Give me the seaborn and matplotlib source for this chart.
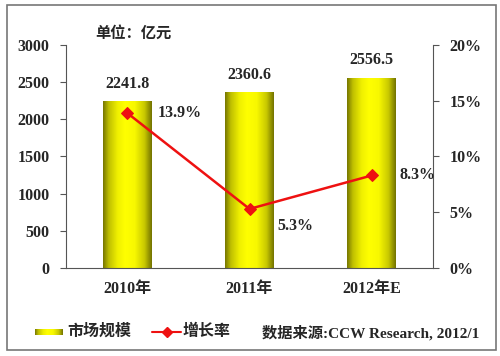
import numpy as np
import pandas as pd
import matplotlib
matplotlib.use("Agg")
import matplotlib.pyplot as plt
import seaborn as sns
from matplotlib.colors import LinearSegmentedColormap
from matplotlib.lines import Line2D
from matplotlib.patches import Rectangle

# data
years = ["2010年", "2011年", "2012年E"]
market_size = [2241.8, 2360.6, 2556.5]      # 亿元
growth_rate = [13.9, 5.3, 8.3]              # %
size_labels = ["2241.8", "2360.6", "2556.5"]
rate_labels = ["13.9%", "5.3%", "8.3%"]

df = pd.DataFrame({"year": years, "size": market_size, "rate": growth_rate})

sns.set_style("white")
plt.rcParams["font.family"] = ["Liberation Serif", "Noto Sans CJK SC"]
plt.rcParams["font.weight"] = "bold"

fig = plt.figure(figsize=(5, 3.56), dpi=100)
ax = fig.add_axes([0.132, 0.247, 0.734, 0.627])

sns.barplot(data=df, x="year", y="size", ax=ax, width=0.4, color="#e0e000",
            edgecolor="none", zorder=2)

# olive -> yellow -> olive gradient on the bars
grad_cmap = LinearSegmentedColormap.from_list(
    "oliveyellow", [(0.0, "#767600"), (0.12, "#c0c000"), (0.3, "#f0f000"),
                    (0.45, "#ffff00"), (0.65, "#f8f800"), (0.85, "#c8c800"),
                    (1.0, "#727200")])
grad = np.linspace(0, 1, 256).reshape(1, -1)
for p in ax.patches:
    x0, y0 = p.get_x(), p.get_y()
    w, h = p.get_width(), p.get_height()
    im = ax.imshow(grad, cmap=grad_cmap, aspect="auto",
                   extent=[x0, x0 + w, y0, y0 + h], zorder=2)
    im.set_clip_path(p)
    p.set_facecolor("none")
    ax.annotate(size_labels[int(round(x0 + w / 2))], (x0 + w / 2, y0 + h),
                xytext=(0, 7), textcoords="offset points",
                ha="center", va="bottom", fontsize=11.5, fontweight="bold")

ax.set_xlim(-0.5, 2.5)
ax.set_ylim(0, 3000)
ax.set_yticks(range(0, 3001, 500))
ax.set_xlabel("")
ax.set_ylabel("")
ax.set_xticks([0, 1, 2])
ax.set_xticklabels(years, fontsize=11.5, fontweight="bold")
ax.set_xticks([-0.5, 0.5, 1.5, 2.5], minor=True)
ax.tick_params(axis="x", which="major", length=0, pad=9)
ax.tick_params(axis="x", which="minor", length=5, width=0.8, direction="out", color="#555555")
ax.tick_params(axis="y", length=4, width=0.8, direction="out", color="#555555",
               labelsize=11.5, pad=8)
for lab in ax.get_yticklabels():
    lab.set_fontweight("bold")
for s in ["top", "right"]:
    ax.spines[s].set_visible(False)
for s in ["left", "bottom"]:
    ax.spines[s].set_color("#555555")
    ax.spines[s].set_linewidth(0.8)

ax.text(0.08, 1.02, "单位：亿元", transform=ax.transAxes, fontsize=11,
        fontweight="bold", ha="left", va="bottom")

# growth rate on the right axis
ax2 = ax.twinx()
sns.lineplot(data=df, x="year", y="rate", ax=ax2, color="#ee1111", lw=1.8,
             marker="D", markersize=6, markeredgecolor="#ee1111", zorder=3)
ax2.set_ylim(0, 20)
ax2.set_yticks(range(0, 21, 5))
ax2.set_yticklabels([f"{v}%" for v in range(0, 21, 5)], fontsize=11.5, fontweight="bold")
ax2.set_ylabel("")
ax2.set_xlabel("")
ax2.tick_params(axis="y", length=4, width=0.8, direction="out", color="#555555", pad=8)
for s in ["top", "left", "bottom"]:
    ax2.spines[s].set_visible(False)
ax2.spines["right"].set_color("#555555")
ax2.spines["right"].set_linewidth(0.8)

offsets = [(22, 0), (20, -12), (20, 0)]
for i, (v, lab) in enumerate(zip(growth_rate, rate_labels)):
    ax2.annotate(lab, (i, v), xytext=offsets[i], textcoords="offset points",
                 ha="left", va="center", fontsize=11.5, fontweight="bold")

# legend row
ly = 1 - 332 / 356
sw = fig.add_axes([35 / 500, ly - 3.5 / 356, 28 / 500, 7 / 356])
sw.imshow(grad, cmap=grad_cmap, aspect="auto")
sw.axis("off")
fig.text(67 / 500, ly, "市场规模", fontsize=11.5, fontweight="bold",
         ha="left", va="center")
fig.add_artist(Line2D([152 / 500, 181 / 500], [ly, ly], color="#ee1111",
                      lw=1.5, transform=fig.transFigure))
fig.add_artist(Line2D([166.5 / 500], [ly], color="#ee1111", marker="D",
                      markersize=5, lw=0, transform=fig.transFigure))
fig.text(183 / 500, ly, "增长率", fontsize=11.5, fontweight="bold",
         ha="left", va="center")
fig.text(262 / 500, ly - 1 / 356, "数据来源:CCW Research, 2012/1", fontsize=11,
         fontweight="bold", ha="left", va="center")

# outer frame
fig.add_artist(Rectangle((7 / 500, 1 - 350 / 356), 489 / 500, 345 / 356,
                         transform=fig.transFigure, fill=False,
                         edgecolor="#777777", lw=1.2))

fig.savefig("out.png", dpi=100)
